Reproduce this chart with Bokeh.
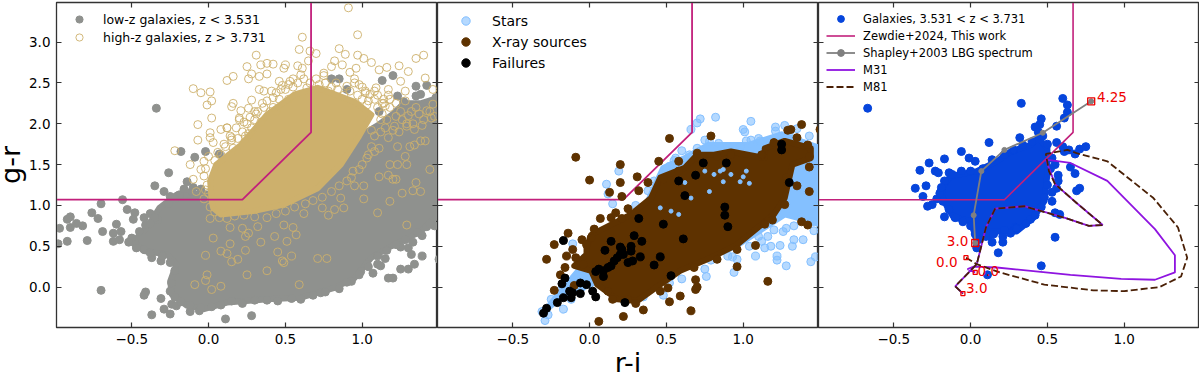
from bokeh.plotting import figure
from bokeh.layouts import row
from bokeh.models import LinearAxis, FixedTicker, Legend, LegendItem, Range1d, CustomJSTickFormatter, CustomLabelingPolicy
from bokeh.core.properties import value
from bokeh.embed import file_html
from bokeh.resources import INLINE

# Selection wedge
wedge_ri = [-0.99, 0.22, 0.667, 0.667]
wedge_gr = [1.07, 1.07, 1.895, 3.5]

# Panel 1: dense regions (outlines) and isolated points
low_core_ri = [-0.25,-0.24,-0.14,-0.03,0.12,0.38,0.6,0.82,0.95,1.06,1.19,1.38,1.5,1.5,1.38,1.27,1.2,1.1,1.03,0.7,0.3,0.03,-0.21,-0.32,-0.4,-0.49,-0.42,-0.27,-0.21]
low_core_gr = [0.07,-0.09,-0.23,-0.27,-0.19,-0.15,-0.13,-0.01,0.11,0.36,0.5,0.68,0.89,2.32,2.25,2.25,2.12,1.98,1.9,1.4,1.2,1.15,1.13,0.97,0.73,0.56,0.44,0.4,0.28]
low_ri = [-0.34,-0.18,-0.09,-0.02,0.07,-0.26,-0.35,-0.29,-0.14,-0.25,-0.56,-0.70,-0.76,-0.72,-0.90,-0.92,-0.97,-0.90,-0.86,-0.82,-0.69,-0.92,-0.79,-0.98,-0.70,-0.41,-0.42,-0.31,-0.37,-0.29,-0.25,-0.24,-0.21,-0.12,-0.06,0.11,0.28,-0.60,-0.53,-0.48,-0.38,-0.33,-0.62,-0.58,-0.62,-0.57,-0.49,-0.42,-0.41,-0.48,-0.42,-0.37,-0.31,-0.19,-0.11,0.80,0.85,0.90,1.13,1.20,1.35,1.42,1.23,1.27,1.38,1.35,1.48,1.11,0.36,0.49,0.99,1.07,1.17,1.20,1.25,1.30,1.34,1.39,1.32,1.25,1.30,1.33,1.39,1.47,1.42,1.50,1.15,1.10,1.12,1.03,0.93,0.38,0.54,0.73,
          -0.24,-0.25,-0.22,-0.18,-0.12,-0.05,0.02,0.08,0.15,0.22,0.30,0.45,0.60,0.68,0.76,0.85,0.90,0.98,1.04,1.10,1.16,1.22,1.28,1.36,1.44,-0.35,-0.38,-0.45,-0.50,-0.52,-0.47,-0.38,-0.30,-0.25,-0.22,-0.26,-0.22,-0.16,-0.10,-0.05]
low_gr = [2.19,1.66,1.59,1.66,1.63,1.40,1.24,1.17,1.29,1.11,1.07,1.02,0.91,0.84,0.86,0.83,0.72,0.73,0.78,0.75,0.68,0.56,0.57,0.53,-0.04,-0.06,-0.10,-0.14,-0.34,-0.27,-0.33,-0.21,-0.23,-0.30,-0.29,-0.39,-0.35,0.77,0.95,0.91,0.90,0.82,0.56,0.58,0.66,0.68,0.83,0.85,0.76,0.54,0.46,0.36,0.32,1.13,1.17,2.55,2.55,2.42,2.53,2.59,2.46,2.47,2.34,2.27,2.36,2.34,2.32,2.15,2.01,2.05,0.19,0.17,0.11,0.11,0.22,0.22,0.28,0.38,0.40,0.49,0.48,0.55,0.63,0.75,0.74,0.34,0.35,0.28,0.26,0.28,0.07,-0.16,-0.14,-0.07,
          0.05,-0.05,-0.12,-0.18,-0.22,-0.25,-0.24,-0.22,-0.17,-0.20,-0.16,-0.17,-0.15,-0.10,-0.06,-0.02,0.06,0.15,0.25,0.38,0.45,0.52,0.58,0.67,0.78,0.85,0.78,0.68,0.60,0.55,0.48,0.42,0.38,0.30,0.20,1.02,1.08,1.20,1.22,1.20]
high_core_ri = [0.03,0.08,0.29,0.49,0.71,0.86,0.98,1.06,0.95,0.71,0.56,0.38,0.21,0.05,0.01,0.02]
high_core_gr = [0.97,0.89,0.93,1.01,1.21,1.5,1.85,2.11,2.27,2.44,2.36,2.11,1.74,1.5,1.3,1.05]
high_ri = [0.91,0.97,0.61,0.59,0.66,0.70,0.31,0.65,0.25,0.34,0.38,0.42,0.50,0.49,0.58,0.61,0.28,0.38,0.33,0.26,0.16,0.12,-0.10,-0.05,0.01,0.02,-0.01,0.02,-0.07,0.16,0.15,0.28,0.26,0.21,0.20,0.33,0.36,0.41,0.46,0.53,0.08,0.12,0.01,0.01,-0.07,0.03,0.15,-0.22,-0.12,-0.03,-0.05,-0.10,-0.03,-0.08,-0.02,0.85,0.89,0.97,1.01,1.06,0.82,0.80,0.87,0.96,0.92,0.75,1.16,1.24,1.11,1.30,1.35,1.40,1.41,1.25,1.28,1.09,1.17,1.00,1.46,1.47,1.03,1.14,0.95,0.01,0.03,0.14,0.22,0.32,0.26,0.24,0.14,0.08,0.12,-0.02,0.19,0.15,0.24,0.34,0.43,0.51,0.57,0.49,0.55,0.45,0.54,0.48,0.49,0.71,0.77,0.38,0.25,-0.01,-0.02,-0.09,0.02,0.08,0.59,0.62,0.78,0.82,0.74,0.88,1.01,1.10,1.18,1.29,1.26,1.33,1.38,1.35,1.20,1.22,1.11,1.17,1.23,1.29,1.18,1.28,1.23,1.31,1.34,1.38,1.41,1.44,1.17,1.08,1.11,1.03,0.98,1.01,0.95,0.86,0.93,1.21,1.29,1.45,1.22,
           0.10,0.14,0.18,0.22,0.25,0.30,0.28,0.32,0.36,0.38,0.42,0.46,0.50,0.55,0.58,0.62,0.66,0.70,0.76,0.80,0.84,0.88,0.92,0.97,1.00,1.04,1.08,1.10,1.13,1.16,1.06,0.06,0.00,0.04,-0.02,-0.01,0.00,-0.03,0.01,0.04,0.07,0.12,0.17,0.23,0.30,0.38,0.44,0.50,0.56,0.63,0.68,0.74,0.80,0.85,0.90,0.94,1.00,1.04,1.06,1.08,1.12,1.15,0.12,0.20,0.24,0.30,0.42,0.47,0.55,0.60,0.75,0.78,0.95,1.02,1.10,1.18,1.25,1.30,1.35,1.40,1.33,1.26,1.12,0.16,0.26,0.34,0.44,0.52,0.64,0.72,0.83,0.90,1.05,1.15,
           0.08,0.11,0.15,0.19,0.23,0.27,0.31,0.35,0.40,0.44,0.48,0.52,1.18,1.22,1.28,1.32,1.37,1.42,1.46,1.20,1.24,1.29,1.34,1.39,1.44,1.13,1.17,0.98,1.02,1.08,1.14]
high_gr = [3.42,3.09,3.06,2.91,2.89,2.86,2.84,2.77,2.70,2.72,2.74,2.73,2.72,2.68,2.71,2.68,2.61,2.61,2.58,2.55,2.58,2.53,2.43,2.38,2.39,2.28,2.23,2.07,1.99,2.25,2.21,2.29,2.19,2.16,2.07,2.42,2.40,2.40,2.52,2.52,1.93,1.95,1.89,1.83,1.80,1.77,1.83,1.67,1.50,1.54,1.44,1.32,1.36,1.17,1.19,2.92,2.85,2.84,2.80,2.75,2.77,2.70,2.72,2.68,2.63,2.59,2.69,2.71,2.66,2.64,2.80,2.84,2.56,2.52,2.40,2.44,2.42,2.45,2.42,2.09,2.23,2.25,2.50,0.84,0.60,0.73,0.72,0.74,0.66,0.62,0.53,0.44,0.41,0.39,0.34,0.31,0.45,0.55,0.62,0.56,0.64,0.76,0.73,0.43,0.38,0.32,0.30,0.35,0.35,0.20,0.15,0.15,0.08,0.03,-0.03,0.01,0.03,0.90,0.88,0.95,0.97,0.97,1.08,0.91,1.05,0.76,1.15,1.18,1.17,1.28,1.32,1.32,1.35,1.37,1.50,1.50,1.50,1.60,1.72,1.72,1.74,1.79,1.79,1.44,1.83,1.66,1.70,1.58,1.44,1.24,1.24,1.09,1.34,1.97,1.97,2.07,2.09,
           1.75,1.85,1.95,1.90,2.00,2.05,1.95,2.15,2.20,2.28,2.32,2.30,2.42,2.45,2.50,2.55,2.50,2.55,2.50,2.45,2.42,2.35,2.40,2.35,2.30,2.28,2.30,2.20,2.12,2.05,1.92,1.65,1.60,1.55,1.45,1.25,1.15,1.08,0.98,0.92,0.85,0.84,0.87,0.88,0.86,0.85,0.90,0.93,0.98,1.02,1.06,1.10,1.17,1.24,1.30,1.42,1.50,1.62,1.72,1.85,1.90,1.95,1.95,2.05,1.85,2.15,2.20,2.42,2.55,2.60,2.62,2.40,2.55,2.40,2.35,2.20,2.15,2.10,2.20,2.05,2.00,2.05,2.05,1.70,1.88,2.02,2.15,2.30,2.44,2.48,2.50,2.46,2.36,2.22,
           1.62,1.72,1.80,1.82,2.02,2.08,2.12,2.25,2.15,2.38,2.47,2.48,2.30,2.25,2.28,2.15,2.12,2.16,2.24,1.92,1.90,2.00,1.93,1.98,2.15,2.25,2.35,2.48,2.38,2.40,2.30]

# Panel 2
star_core_ri = [0.38,0.48,0.62,0.77,1.03,1.25,1.5,1.5,1.35,1.27,0.95,0.55,0.03,-0.17,-0.30,-0.02,0.27]
star_core_gr = [1.05,1.46,1.58,1.74,1.74,1.87,1.70,0.77,0.85,0.89,0.50,0.18,0.05,-0.09,-0.31,0.32,0.85]
star_ri = [0.82,0.72,0.70,0.66,1.05,1.00,1.01,1.21,1.21,1.27,1.35,1.43,0.75,1.02,1.11,0.60,0.56,0.52,0.19,0.11,0.15,0.38,0.12,-0.11,-0.03,-0.29,-0.27,-0.31,-0.17,-0.12,0.48,0.76,0.79,0.94,0.96,0.93,1.08,1.14,1.18,1.24,1.22,1.22,1.28,1.32,1.39,1.33,1.44,1.47,1.46,1.26,1.16,1.12,
           0.78,0.84,0.90,0.98,1.05,1.10,1.18,1.30,1.40,1.47,1.48,1.45,1.38,1.33,1.28,1.20,1.10,1.04,0.90,0.75,0.60,0.52,0.35,-0.05,-0.10,-0.20,-0.25,0.00,0.10,0.20,0.30,0.42,0.50,0.55,0.65,0.70]
star_gr = [2.08,2.06,2.01,1.93,2.03,1.93,1.90,1.96,1.91,1.98,1.94,1.85,1.80,1.79,1.79,1.67,1.58,1.48,1.42,1.26,1.02,1.18,1.14,0.53,0.36,-0.41,-0.34,-0.30,-0.27,-0.15,-0.10,0.13,0.33,0.18,0.34,0.37,0.38,0.48,0.50,0.51,0.38,0.33,0.26,0.50,0.58,0.58,0.31,0.37,0.69,0.68,0.62,0.56,
           1.78,1.76,1.72,1.72,1.80,1.82,1.72,1.88,1.75,1.70,1.00,0.80,0.85,0.75,0.72,0.70,0.62,0.50,0.38,0.22,0.10,0.05,-0.12,0.00,0.10,-0.05,-0.15,0.35,0.55,0.75,1.00,1.30,1.45,1.55,1.62,1.70]
xray_core_ri = [-0.02,0.01,0.27,0.40,0.46,0.62,0.70,0.81,0.92,1.14,1.14,1.27,1.44,1.44,1.32,1.27,1.20,0.96,0.79,0.59,0.46,0.31,0.18,0.05,0.01,-0.10,-0.02]
xray_core_gr = [0.48,0.64,0.89,1.09,1.34,1.46,1.62,1.62,1.66,1.58,1.70,1.79,1.70,1.58,1.50,1.09,0.89,0.52,0.36,0.20,0.03,-0.17,-0.15,0.03,0.20,0.26,0.40]
xray_ri = [-0.09,0.00,0.20,0.20,0.13,0.21,0.32,0.31,0.38,0.45,0.52,0.79,0.58,0.70,1.38,1.31,1.29,1.35,1.20,1.50,1.43,1.35,1.43,1.38,1.42,1.19,1.08,0.96,1.16,0.66,0.59,0.52,0.35,0.30,0.22,0.06,0.70,0.69,0.69,-0.28,-0.23,-0.14,-0.05,-0.11,-0.15,-0.09,-0.16,-0.19,-0.23,-0.10,0.03,0.07,0.14,0.17,0.21,0.25,0.48,0.58,0.70,0.83,0.92,1.12,1.42,1.43,1.28,1.27,1.14,0.96,0.83,0.68,0.51,0.46,0.25,0.12,0.15,-0.04,-0.02,0.01]
xray_gr = [1.59,1.31,1.50,1.28,1.16,1.11,1.18,1.35,1.28,1.54,1.82,1.85,1.54,1.64,1.99,1.93,1.92,1.83,1.77,1.93,1.47,1.24,1.17,0.80,0.76,0.82,0.51,0.25,0.07,-0.29,-0.11,-0.18,-0.28,-0.20,-0.36,-0.42,0.00,-0.03,0.09,0.34,0.52,0.66,0.58,0.46,0.38,0.36,0.24,0.15,-0.04,0.02,0.71,0.84,0.85,0.91,0.84,0.96,1.32,1.42,1.58,1.60,1.62,1.62,1.74,1.60,1.34,1.01,0.77,0.46,0.34,0.24,-0.01,-0.05,-0.15,-0.05,-0.15,0.28,0.52,0.60]
gap_ri = [0.81,0.87,0.78,0.98,1.04,0.87,0.53,0.58,0.46,0.66,0.75,0.85,0.92,1.02,1.00,0.62]
gap_gr = [1.38,1.44,1.17,1.29,1.27,1.29,0.93,0.89,0.97,1.09,1.42,1.42,1.38,1.42,1.35,1.28]
fail_ri = [-0.17,0.10,0.14,0.20,0.27,0.29,0.32,0.48,0.58,0.62,0.69,0.74,0.89,0.88,0.88,0.90,0.61,0.46,0.42,0.33,0.53,0.23,0.04,0.02,-0.02,-0.06,-0.06,-0.11,-0.13,-0.12,-0.17,-0.21,-0.28,-0.30,-0.18,-0.16,1.25,1.25,1.30,0.34,0.28,0.25,0.22,0.20,0.18,0.16,0.14,0.12,0.09,0.06,0.04,0.09,0.27,0.21]
fail_gr = [0.57,0.45,0.56,0.49,0.50,0.63,0.84,0.77,1.30,1.12,1.37,1.52,1.52,0.98,0.88,0.74,0.59,0.37,0.27,0.37,0.14,-0.19,-0.12,-0.05,0.03,0.05,-0.08,-0.07,-0.05,-0.13,-0.13,-0.19,-0.26,-0.32,0.04,0.11,1.75,1.68,1.28,0.56,0.32,0.30,0.40,0.40,0.36,0.32,0.26,0.24,0.20,0.22,0.19,0.13,0.44,0.46]

# Panel 3
gal_core_ri = [-0.17,-0.13,0.04,0.17,0.26,0.39,0.44,0.50,0.50,0.48,0.41,0.30,0.13,0.04,0.00,-0.11,-0.15,-0.20]
gal_core_gr = [1.26,1.36,1.42,1.54,1.66,1.74,1.83,1.70,1.38,1.05,0.85,0.68,0.68,0.56,0.81,0.85,0.97,1.17]
gal_ri = [-0.67,0.33,0.60,0.63,0.63,0.61,0.46,0.45,0.42,0.56,0.32,0.12,0.56,0.60,0.64,0.61,0.68,0.71,0.75,0.53,0.55,0.65,0.68,0.57,0.57,0.56,0.71,0.69,0.53,0.53,0.55,0.58,0.55,0.46,0.11,0.18,0.21,0.21,0.14,0.12,0.29,0.26,0.39,-0.06,-0.01,0.03,-0.17,-0.27,-0.33,-0.23,-0.21,-0.14,-0.29,-0.36,-0.31,-0.22,-0.25,-0.28,-0.17,-0.19,0.04,
          -0.20,-0.18,-0.14,-0.10,-0.05,0.00,0.03,0.05,0.10,0.15,0.22,0.30,0.36,0.42,0.46,0.48,0.50,0.52,0.51,0.50,0.47,0.44,0.40,0.34,0.28,0.22,0.14,0.08,0.00,-0.06,-0.12,-0.17,-0.19]
gal_gr = [2.19,2.25,2.31,2.23,2.14,2.07,2.06,1.99,1.96,1.97,1.83,1.77,1.77,1.72,1.68,1.66,1.63,1.69,1.72,1.58,1.50,1.47,1.39,1.37,1.30,1.21,1.21,1.18,1.16,1.05,0.91,0.89,0.61,0.26,0.15,0.42,0.55,0.62,0.55,0.63,0.73,0.66,0.83,1.66,1.58,1.54,1.57,1.52,1.43,1.42,1.40,1.40,1.24,1.21,1.11,1.08,1.01,0.99,0.86,1.18,0.48,
          1.15,1.05,0.95,0.85,0.80,0.75,0.65,0.58,0.62,0.65,0.70,0.72,0.78,0.88,0.98,1.10,1.25,1.45,1.60,1.75,1.85,1.90,1.78,1.74,1.68,1.62,1.56,1.45,1.42,1.42,1.38,1.30,1.22]
lbg_ri = [0.03,0.02,0.07,0.22,0.47,0.785]
lbg_gr = [0.54,0.88,1.42,1.68,1.89,2.275]
m31_ri = [0.03,-0.02,0.02,0.17,0.65,0.98,1.20,1.33,1.33,1.20,0.89,0.65,0.49,0.55,0.69,0.86,0.77,0.61,0.35,0.16,0.10,0.04,-0.10,-0.05]
m31_gr = [0.18,0.22,0.25,0.24,0.15,0.10,0.09,0.18,0.39,0.71,1.30,1.52,1.56,1.26,1.03,0.76,0.75,0.85,0.99,0.96,0.73,0.28,0.01,-0.08]
m81_ri = [-0.03,0.04,0.19,0.48,0.80,1.00,1.23,1.37,1.41,1.35,1.19,0.89,0.69,0.63,0.49,0.51,0.55,0.69,0.86,0.77,0.61,0.35,0.16,0.10,0.04,-0.10,-0.05]
m81_gr = [0.36,0.28,0.18,0.03,-0.04,-0.05,0.00,0.13,0.36,0.73,1.09,1.54,1.64,1.68,1.63,1.42,1.26,1.03,0.76,0.75,0.85,0.99,0.96,0.73,0.28,0.01,-0.08]
big_sq_ri = [0.03, 0.785]
big_sq_gr = [0.54, 2.275]
small_sq_ri = [-0.03, 0.03, -0.05]
small_sq_gr = [0.36, 0.18, -0.08]
z_labels = ["3.0", "4.25", "0.0", "0.0", "3.0"]
z_label_ri = [-0.085, 0.92, -0.155, 0.115, 0.04]
z_label_gr = [0.56, 2.33, 0.31, 0.20, -0.01]

x_ticks = [-0.5, 0.0, 0.5, 1.0]
y_ticks = [0.0, 0.5, 1.0, 1.5, 2.0, 2.5, 3.0]

MAG = "#c2207b"; GRAY = "#8f918e"; GOLD = "#cdb06c"; STAR = "#84c0ff"
BROWN = "#5e3200"; GAL = "#0645dc"; PURPLE = "#8f14e0"; DARK = "#4a2006"
SPINE = "#333333"; MS = 8
FMT = "return tick.toFixed(1).replace('-', '\\u2212')"
NO_LABELS = "for (const i of Array.from(indices)) { indices.unset(i) }; return indices"

def tick_style(ax, labels):
    ax.major_tick_in = 5; ax.major_tick_out = 0
    ax.minor_tick_in = 0; ax.minor_tick_out = 0
    ax.axis_line_color = SPINE; ax.major_tick_line_color = SPINE
    ax.major_tick_line_width = 1.2
    ax.major_label_text_font = "DejaVu Sans"
    ax.major_label_text_color = "black"
    if labels:
        ax.formatter = CustomJSTickFormatter(code=FMT)
        ax.major_label_text_font_size = "13.5px"
        ax.major_label_standoff = 6
    else:
        ax.major_label_policy = CustomLabelingPolicy(code=NO_LABELS)
        ax.major_label_text_font_size = "0px"
        ax.major_label_standoff = 0

def panel(left=0, xlabel=None, ylabel=None):
    p = figure(width=381 + left, height=374, frame_width=381, frame_height=325,
               x_range=Range1d(-0.99, 1.49), y_range=Range1d(-0.495, 3.485),
               output_backend="svg", toolbar_location=None,
               min_border_left=left, min_border_right=0, min_border_top=1, min_border_bottom=0)
    p.grid.visible = False
    p.outline_line_color = SPINE
    p.outline_line_width = 1.3
    p.border_fill_color = None
    p.xaxis[0].ticker = FixedTicker(ticks=x_ticks)
    p.yaxis[0].ticker = FixedTicker(ticks=y_ticks)
    tick_style(p.xaxis[0], True)
    tick_style(p.yaxis[0], bool(left))
    if xlabel:
        p.xaxis[0].axis_label = xlabel
    if ylabel:
        p.yaxis[0].axis_label = ylabel
    for ax in (p.xaxis[0], p.yaxis[0]):
        ax.axis_label_text_font = "DejaVu Sans"
        ax.axis_label_text_font_style = "normal"
        ax.axis_label_text_font_size = "27px"
        ax.axis_label_text_color = "black"
        ax.axis_label_standoff = 0
    top = LinearAxis(ticker=FixedTicker(ticks=x_ticks))
    right = LinearAxis(ticker=FixedTicker(ticks=y_ticks))
    tick_style(top, False)
    tick_style(right, False)
    p.add_layout(top, "above")
    p.add_layout(right, "right")
    return p

def add_legend(p, items, pad, row_h, gw, gap, size):
    leg = Legend(items=[LegendItem(label=t, renderers=r) for t, r in items], location="top_left",
                 border_line_color=None, background_fill_alpha=0, margin=8, padding=pad, spacing=0,
                 glyph_width=gw, glyph_height=row_h, label_height=row_h, label_standoff=gap,
                 label_text_font="DejaVu Sans", label_text_font_size=size, label_text_color="black",
                 label_text_baseline="middle")
    p.add_layout(leg)

# ---- Panel 1
p1 = panel(left=56, ylabel="g-r")
p1.patch(low_core_ri, low_core_gr, fill_color=GRAY, line_color=GRAY, line_width=6, line_join="round")
r_low = p1.scatter(low_ri, low_gr, size=MS, fill_color=GRAY, line_color=GRAY)
p1.patch(high_core_ri, high_core_gr, fill_color=GOLD, line_color=GOLD, line_width=6, line_join="round")
r_high = p1.scatter(high_ri, high_gr, size=8, fill_color=None, line_color=GOLD, line_width=1, line_alpha=0.9)
p1.line(wedge_ri, wedge_gr, line_color=MAG, line_width=1.8)
add_legend(p1, [("low-z galaxies, z < 3.531", [r_low]), ("high-z galaxies, z > 3.731", [r_high])],
           8, 18, 30, 9, "12.5px")

# ---- Panel 2
p2 = panel(xlabel="r-i")
p2.patch(star_core_ri, star_core_gr, fill_color=STAR, line_color=STAR, line_width=6, line_join="round")
r_star = p2.scatter(star_ri, star_gr, size=MS, fill_color=STAR, fill_alpha=0.6, line_color=STAR)
p2.line(wedge_ri, wedge_gr, line_color=MAG, line_width=1.8)
p2.patch(xray_core_ri, xray_core_gr, fill_color=BROWN, line_color=BROWN, line_width=6, line_join="round")
r_xray = p2.scatter(xray_ri, xray_gr, size=MS, fill_color=BROWN, line_color=BROWN)
p2.scatter(gap_ri, gap_gr, size=4, fill_color=STAR, line_color=STAR)
r_fail = p2.scatter(fail_ri, fail_gr, size=MS, fill_color="black", line_color="black")
add_legend(p2, [("Stars", [r_star]), ("X-ray sources", [r_xray]), ("Failures", [r_fail])],
           7, 21, 41, 6, "14px")

# ---- Panel 3
p3 = panel()
p3.patch(gal_core_ri, gal_core_gr, fill_color=GAL, line_color=GAL, line_width=6, line_join="round")
r_gal = p3.scatter(gal_ri, gal_gr, size=MS, fill_color=GAL, line_color=GAL)
r_wedge = p3.line(wedge_ri, wedge_gr, line_color=MAG, line_width=1.6)
r_lbg_l = p3.line(lbg_ri, lbg_gr, line_color="#808080", line_width=1.8)
r_lbg_m = p3.scatter(lbg_ri, lbg_gr, size=5, fill_color="#808080", line_color="#808080")
r_m31 = p3.line(m31_ri, m31_gr, line_color=PURPLE, line_width=1.8)
r_m81 = p3.line(m81_ri, m81_gr, line_color=DARK, line_width=1.8, line_dash="7 3")
p3.scatter(big_sq_ri, big_sq_gr, marker="square", size=7, fill_color=None, line_color="#ee0000", line_width=1.3)
p3.scatter(small_sq_ri, small_sq_gr, marker="square", size=4, fill_color=None, line_color="#ee0000", line_width=1.3)
p3.text(z_label_ri, z_label_gr, text=z_labels, text_color="#ee0000", text_font=value("DejaVu Sans"),
        text_font_size="13.5px", text_align="center", text_baseline="middle")
add_legend(p3, [("Galaxies, 3.531 < z < 3.731", [r_gal]), ("Zewdie+2024, This work", [r_wedge]),
                ("Shapley+2003 LBG spectrum", [r_lbg_l, r_lbg_m]), ("M31", [r_m31]), ("M81", [r_m81])],
           6, 17, 29, 8, "11.5px")

layout = row(p1, p2, p3, spacing=0, margin=(1, 0, 0, -8))
open("out.html", "w").write(file_html(layout, INLINE))
